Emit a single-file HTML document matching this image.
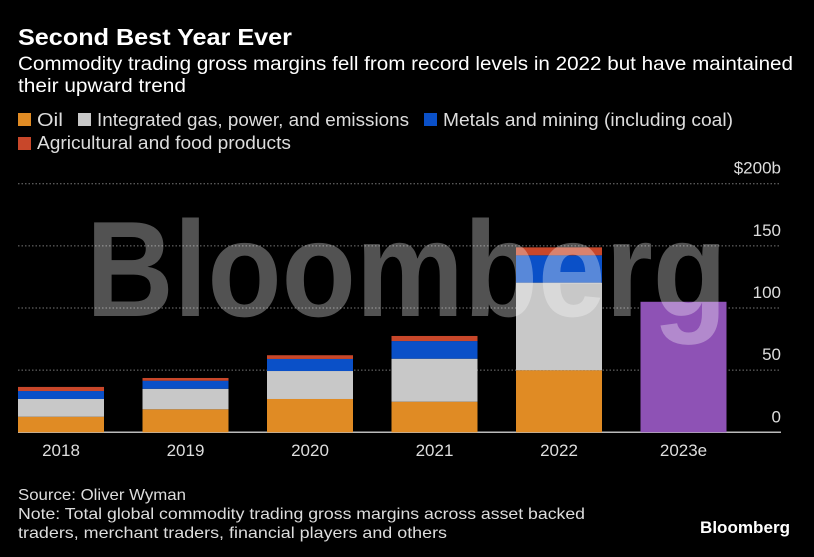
<!DOCTYPE html>
<html><head><meta charset="utf-8"><style>
html,body{margin:0;padding:0;background:#000;overflow:hidden;}
svg{display:block;}
svg text{font-family:"Liberation Sans",sans-serif;}
</style></head><body>
<svg id="chart" width="814" height="557" xmlns="http://www.w3.org/2000/svg">
<rect width="814" height="557" fill="#000"/>
<text x="18" y="45" fill="#fff" font-size="23" font-weight="bold" textLength="274" lengthAdjust="spacingAndGlyphs">Second Best Year Ever</text>
<text x="18" y="70" fill="#fff" font-size="19" textLength="775" lengthAdjust="spacingAndGlyphs">Commodity trading gross margins fell from record levels in 2022 but have maintained</text>
<text x="18" y="92" fill="#fff" font-size="19" textLength="168" lengthAdjust="spacingAndGlyphs">their upward trend</text>
<g>
<rect x="18" y="113" width="13" height="13" fill="#e08b24"/>
<text x="37" y="126" fill="#ddd" font-size="18" textLength="26" lengthAdjust="spacingAndGlyphs">Oil</text>
<rect x="78" y="113" width="13" height="13" fill="#c8c8c8"/>
<text x="97" y="126" fill="#ddd" font-size="18" textLength="312" lengthAdjust="spacingAndGlyphs">Integrated gas, power, and emissions</text>
<rect x="424" y="113" width="13" height="13" fill="#0a50c8"/>
<text x="443" y="126" fill="#ddd" font-size="18" textLength="290" lengthAdjust="spacingAndGlyphs">Metals and mining (including coal)</text>
<rect x="18" y="137" width="13" height="13" fill="#c8472a"/>
<text x="37" y="149" fill="#ddd" font-size="18" textLength="254" lengthAdjust="spacingAndGlyphs">Agricultural and food products</text>
</g>
<g id="grid"></g>
<g id="bars"></g>
<text x="86" y="316" fill="rgba(255,255,255,0.32)" font-size="136" font-weight="bold" textLength="641" lengthAdjust="spacingAndGlyphs">Bloomberg</text>
<g id="xlabels"></g>
<text x="18" y="500" fill="#ddd" font-size="16" textLength="168" lengthAdjust="spacingAndGlyphs">Source: Oliver Wyman</text>
<text x="18" y="519" fill="#ddd" font-size="16" textLength="567" lengthAdjust="spacingAndGlyphs">Note: Total global commodity trading gross margins across asset backed</text>
<text x="18" y="538" fill="#ddd" font-size="16" textLength="429" lengthAdjust="spacingAndGlyphs">traders, merchant traders, financial players and others</text>
<text x="700" y="533" fill="#fff" font-size="17" font-weight="bold" textLength="90" lengthAdjust="spacingAndGlyphs">Bloomberg</text>
</svg>
<script>
const categories=["2018","2019","2020","2021","2022","2023e"];
const oil=[12.5,18.5,26.8,24.6,49.9,0];
const gas=[14.3,16.5,22.5,34.6,70.5,0];
const metals=[6.4,6.5,9.7,14.2,22,0];
const agri=[3.3,2.2,3,4.1,6.4,0];
const estimate=[0,0,0,0,0,105];
const ticks=[0,50,100,150,200];
const tickLabels=["0","50","100","150","$200b"];
const NS="http://www.w3.org/2000/svg";
const y0=432.3,ppu=1.243;
function yScale(v){return y0-v*ppu;}
function xScale(i){return 18+i*124.5;}
const bw=86;
const grid=document.getElementById('grid');
ticks.forEach((t,i)=>{
  const l=document.createElementNS(NS,'line');
  
  
  l.setAttribute('x1',18);l.setAttribute('x2',781);
  l.setAttribute('y1',yScale(t));l.setAttribute('y2',yScale(t));
  if(t===0){l.setAttribute('stroke','#bbb');l.setAttribute('stroke-width','1.5');}
  else{l.setAttribute('stroke','#777');l.setAttribute('stroke-dasharray','1.5,2');}
  grid.appendChild(l);
  const tx=document.createElementNS(NS,'text');
  
  
  tx.setAttribute('x',781);tx.setAttribute('y',yScale(t)-10);
  tx.setAttribute('text-anchor','end');tx.setAttribute('fill','#ddd');tx.setAttribute('font-size','17');
  tx.textContent=tickLabels[i];
  grid.appendChild(tx);
});
const bars=document.getElementById('bars');
const series=[[oil,'#e08b24','oil'],[gas,'#c8c8c8','gas'],[metals,'#0a50c8','metals'],[agri,'#c8472a','agri'],[estimate,'#8e52b5','estimate']];
categories.forEach((c,i)=>{
  let base=0;
  series.forEach(([arr,col,nm])=>{
    const v=arr[i];if(!v)return;
    const r=document.createElementNS(NS,'rect');
    
    
    r.setAttribute('x',xScale(i));r.setAttribute('width',bw);
    r.setAttribute('y',yScale(base+v));r.setAttribute('height',v*ppu);
    r.setAttribute('fill',col);
    bars.appendChild(r);
    base+=v;
  });
  const tx=document.createElementNS(NS,'text');
  
  
  tx.setAttribute('x',xScale(i)+bw/2);tx.setAttribute('y',456);
  tx.setAttribute('text-anchor','middle');tx.setAttribute('fill','#ddd');tx.setAttribute('font-size','17');
  tx.textContent=c;
  document.getElementById('xlabels').appendChild(tx);
});
</script>
</body></html>
